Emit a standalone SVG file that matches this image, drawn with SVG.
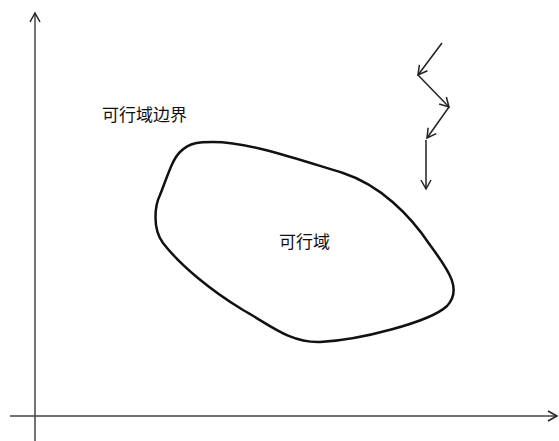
<svg xmlns="http://www.w3.org/2000/svg" width="559" height="441" viewBox="0 0 559 441">
<style>
.axis{stroke:#444;stroke-width:1.5;fill:none}
.arr{stroke:#222;stroke-width:1.5;fill:none}
.lbl{font-family:"Noto Sans CJK SC","Liberation Sans",sans-serif;font-size:17px;fill:#111}
</style>
<defs>
<marker id="v" markerWidth="12" markerHeight="12" refX="10" refY="6" orient="auto" markerUnits="userSpaceOnUse">
<path d="M1,1 L10,6 L1,11" fill="none" stroke="#222" stroke-width="1.5"/>
</marker>
</defs>
<rect width="559" height="441" fill="#fff"/>
<g id="connectors">
<line class="axis" x1="35" y1="441" x2="35" y2="13" marker-end="url(#v)"/>
<line class="axis" x1="10" y1="416" x2="557" y2="416" marker-end="url(#v)"/>
<line class="arr" x1="442" y1="43" x2="418" y2="75" marker-end="url(#v)"/>
<line class="arr" x1="418" y1="75" x2="449" y2="107" marker-end="url(#v)"/>
<line class="arr" x1="449" y1="107" x2="427" y2="138" marker-end="url(#v)"/>
<line class="arr" x1="426" y1="140" x2="426" y2="189" marker-end="url(#v)"/>
</g>
<g id="region">
<path d="M213,142 C250,142 300,160 343,173 C380,185 410,215 430,245 C450,272 462,290 447,306 C430,322 360,340 320,342 C290,343 270,325 243,310 C210,290 180,265 163,243 C152,228 155,205 160,195 C168,175 172,160 180,152 C190,142 200,142 213,142 Z" fill="none" stroke="#111" stroke-width="2.5"/>
</g>
<g id="label-boundary"><text class="lbl" x="102" y="121">可行域边界</text></g>
<g id="label-region"><text class="lbl" x="279" y="248">可行域</text></g>
</svg>
